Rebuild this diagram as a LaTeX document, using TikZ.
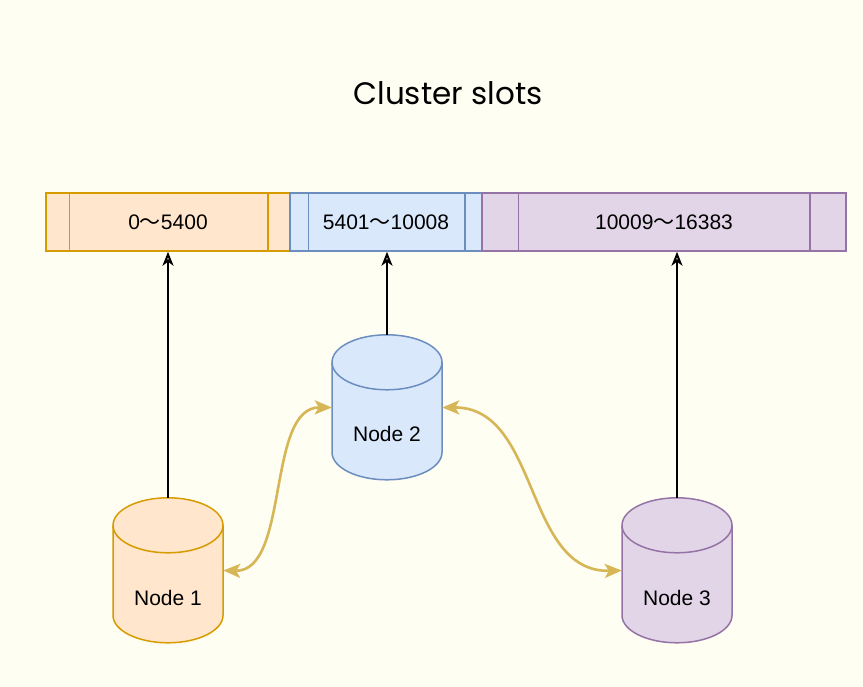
\documentclass[tikz,border=0pt]{standalone}
\usepackage{fontspec}
\setmainfont{Liberation Sans}
\newfontfamily\cjk{Noto Sans CJK SC}
\newfontfamily\titlefont{Poppins}
\usetikzlibrary{arrows.meta}
\definecolor{bgc}{RGB}{254,254,242}
\definecolor{orf}{HTML}{FFE6CC}\definecolor{ord}{HTML}{D79B00}
\definecolor{blf}{HTML}{DAE8FC}\definecolor{bld}{HTML}{6C8EBF}
\definecolor{puf}{HTML}{E1D5E7}\definecolor{pud}{HTML}{9673A6}
\definecolor{yel}{HTML}{D6B656}
\newcommand\tl{{\cjk ～}}
\tikzset{
  seg/.style={draw, line width=1.5pt, minimum height=58pt, inner sep=0pt, font=\fontsize{21}{24}\selectfont},
  holder/.style={minimum width=110pt, minimum height=145pt, inner sep=0pt},
  lbl/.style={font=\fontsize{21}{24}\selectfont, inner sep=0pt},
  blk/.style={draw=black, line width=2pt, -{Stealth[open, length=14pt, width=11pt, inset=4pt, line width=2pt]}},
  ylw/.style={draw=yel, line width=2.6pt, {Stealth[length=17pt, width=14pt, inset=4pt]}-{Stealth[length=17pt, width=14pt, inset=4pt]}},
  cyl/.pic={
    \path[pic actions] (-55,27.5) -- (-55,117.5) .. controls (-55,132.7) and (-30.4,145) .. (0,145) .. controls (30.4,145) and (55,132.7) .. (55,117.5) -- (55,27.5) .. controls (55,12.3) and (30.4,0) .. (0,0) .. controls (-30.4,0) and (-55,12.3) .. (-55,27.5) -- cycle;
    \path[pic actions, fill=none] (-55,27.5) .. controls (-55,42.7) and (-30.4,55) .. (0,55) .. controls (30.4,55) and (55,42.7) .. (55,27.5);
  }
}
\begin{document}
\begin{tikzpicture}[x=1pt,y=-1pt]
\fill[bgc] (0,0) rectangle (863,687);
\useasboundingbox (0,0) rectangle (863,687);

\node[font=\titlefont\fontsize{31}{36}\selectfont, inner sep=0pt] (title) at (448,93) {Cluster slots};

% bar segments
\node[seg, draw=ord, fill=orf, minimum width=244pt] (s1) at (168,222) {0\tl5400};
\node[seg, draw=bld, fill=blf, minimum width=192pt] (s2) at (386,222) {5401\tl10008};
\node[seg, draw=pud, fill=puf, minimum width=364pt] (s3) at (664,222) {10009\tl16383};
\draw[ord, line width=1.5pt] ([xshift=24pt]s1.north west) -- ([xshift=24pt]s1.south west)
  ([xshift=-23pt]s1.north east) -- ([xshift=-23pt]s1.south east);
\draw[bld, line width=1.5pt] ([xshift=19pt]s2.north west) -- ([xshift=19pt]s2.south west)
  ([xshift=-18pt]s2.north east) -- ([xshift=-18pt]s2.south east);
\draw[pud, line width=1.5pt] ([xshift=37pt]s3.north west) -- ([xshift=37pt]s3.south west)
  ([xshift=-37pt]s3.north east) -- ([xshift=-37pt]s3.south east);

% cylinders
\node[holder] (n1) at (168,570.5) {};
\node[holder] (n2) at (387,407.5) {};
\node[holder] (n3) at (677,570.5) {};
\pic[fill=orf, draw=ord, line width=1.5pt] at (n1.north) {cyl};
\pic[fill=blf, draw=bld, line width=1.5pt] at (n2.north) {cyl};
\pic[fill=puf, draw=pud, line width=1.5pt] at (n3.north) {cyl};
\node[lbl] (l1) at (168,598) {Node 1};
\node[lbl] (l2) at (387,434) {Node 2};
\node[lbl] (l3) at (677,598) {Node 3};

% arrows to slots
\draw[blk] (n1.north) -- (n1.north |- s1.south);
\draw[blk] (n2.north) -- (n2.north |- s2.south);
\draw[blk] (n3.north) -- (n3.north |- s3.south);

% gossip links
\draw[ylw] (n1.east) .. controls (290,572) and (266,407) .. (n2.west);
\draw[ylw] (n2.east) .. controls (540,407) and (524,573) .. (n3.west);
\end{tikzpicture}
\end{document}
